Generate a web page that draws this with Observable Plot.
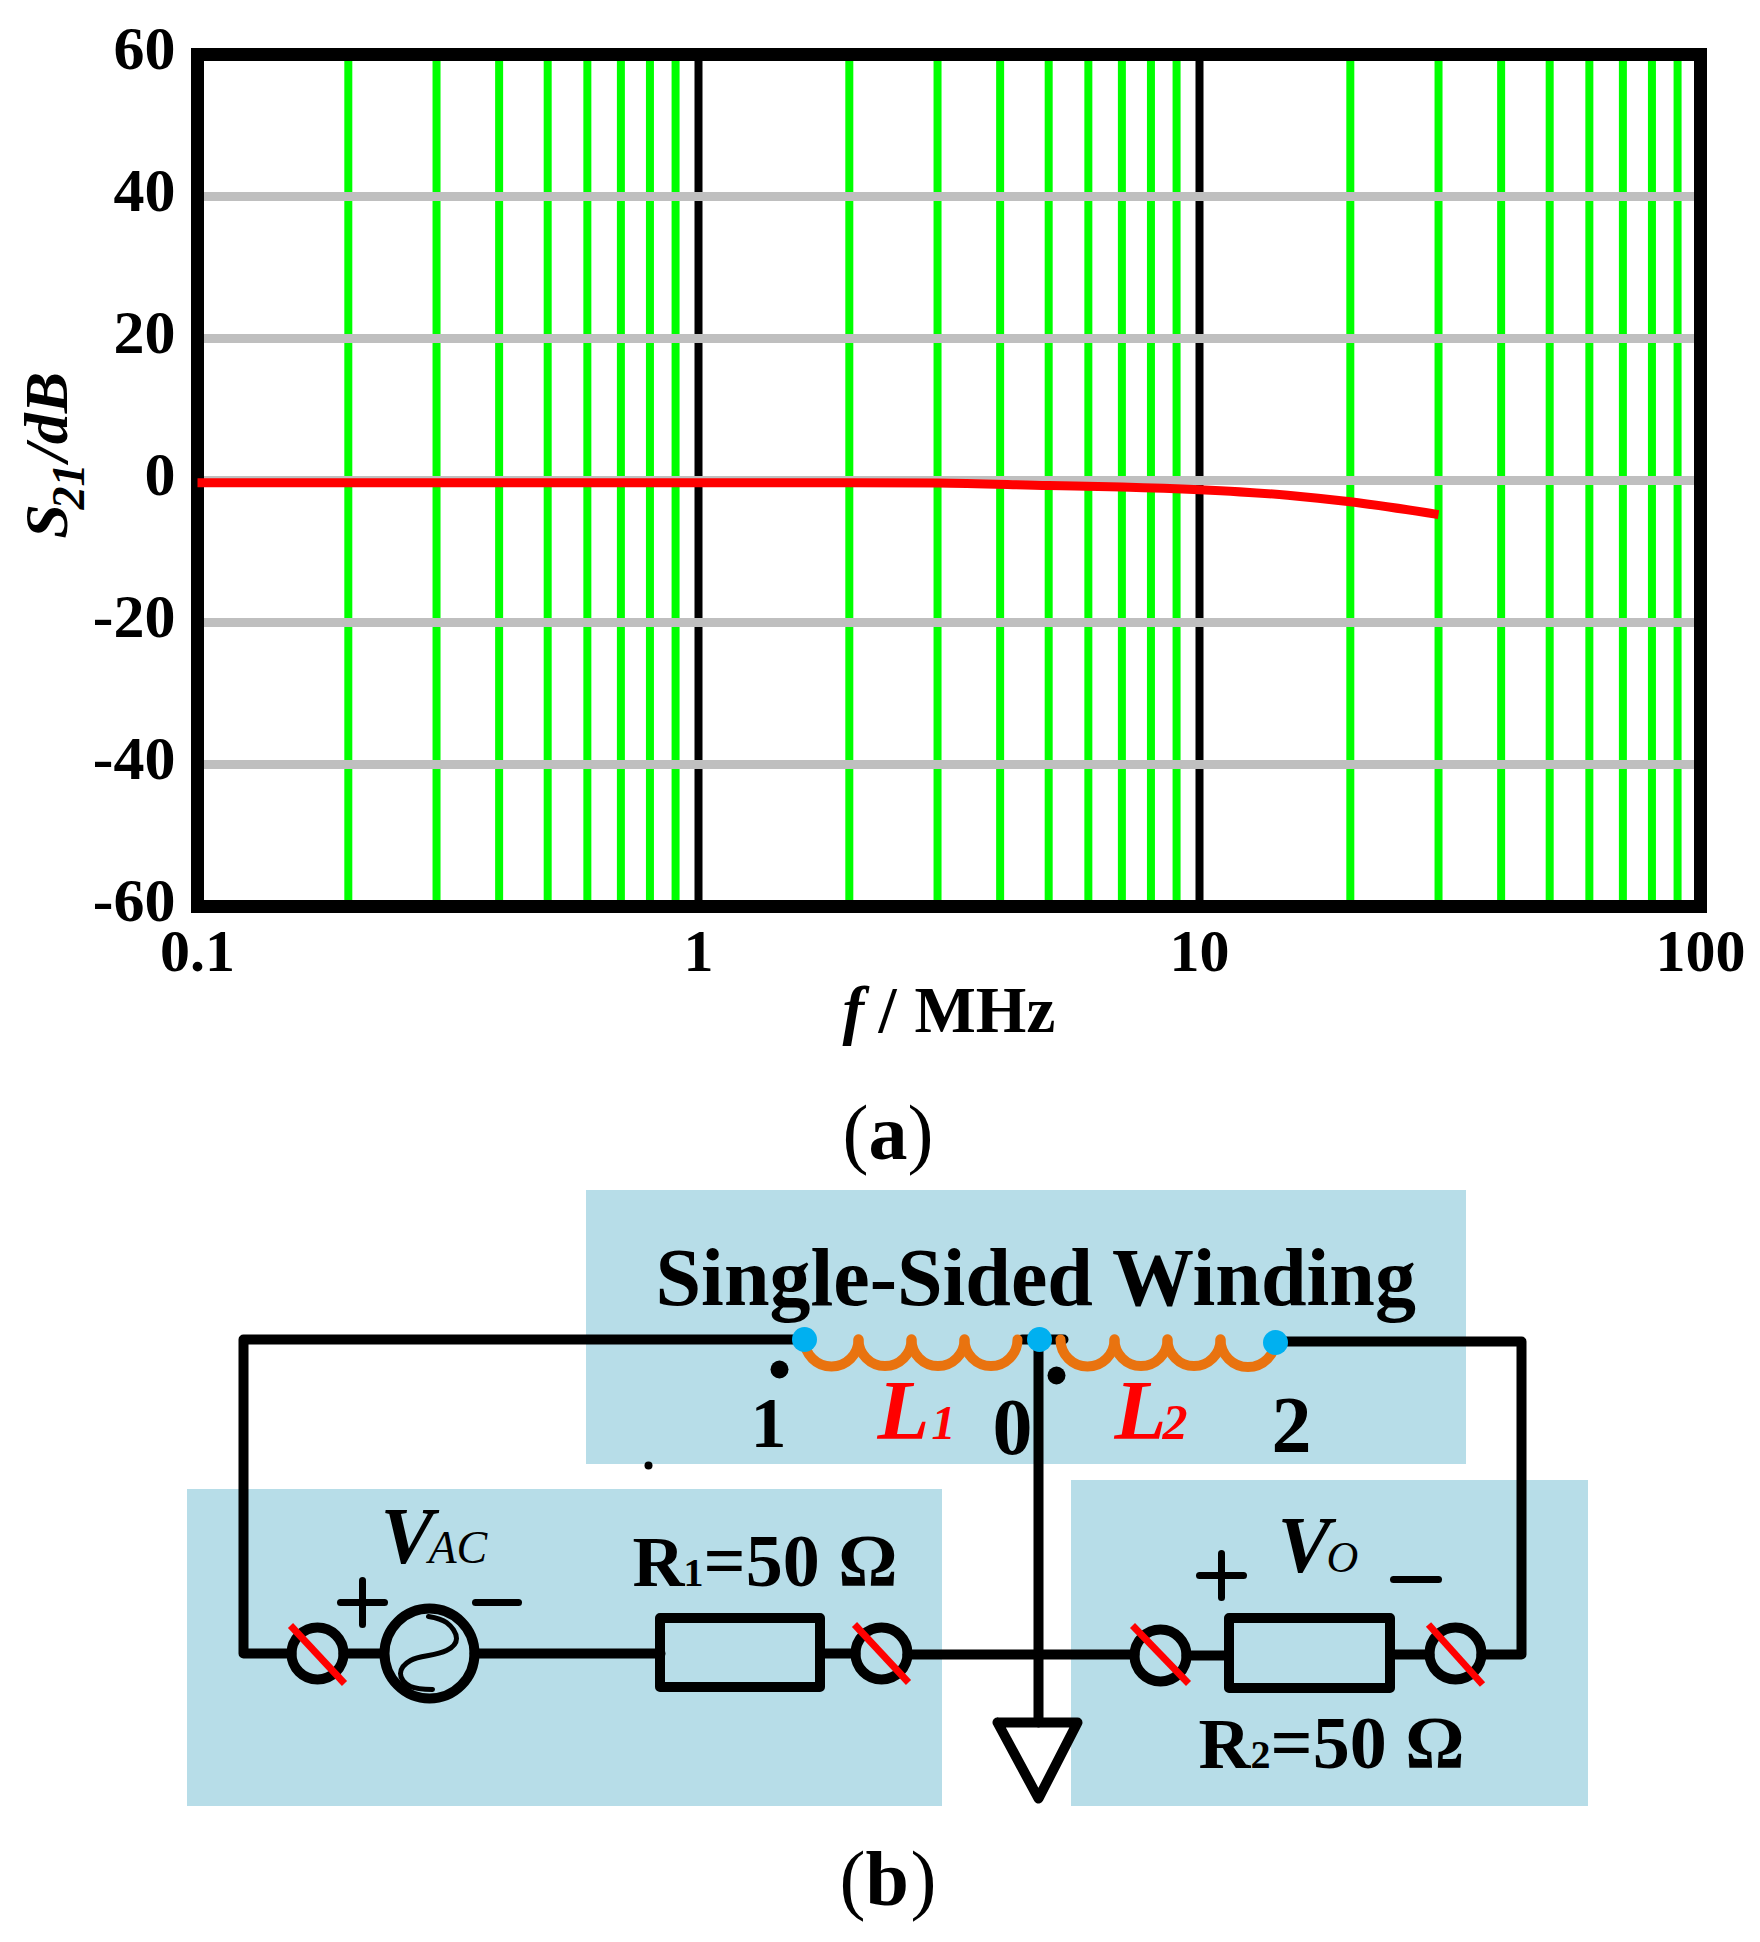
<!DOCTYPE html>
<html>
<head>
<meta charset="utf-8">
<script src="https://cdn.jsdelivr.net/npm/d3@7"></script>
<script src="https://cdn.jsdelivr.net/npm/@observablehq/plot@0.6"></script>
<style>
  html, body { margin: 0; padding: 0; background: #fff; overflow: hidden; }
  svg { display: block; }
</style>
</head>
<body>
<div id="chart"></div>
<script>
// (a) values
const freq = [0.1, 0.2, 0.5, 1, 2, 3, 5, 7, 10, 15, 20, 30];
const s21 = [-0.3, -0.3, -0.3, -0.3, -0.3, -0.35, -0.7, -0.9, -1.3, -2.07, -3.0, -4.8];
const xMajor = [1, 10];
const xMinor = [0.2, 0.3, 0.4, 0.5, 0.6, 0.7, 0.8, 0.9, 2, 3, 4, 5, 6, 7, 8, 9, 20, 30, 40, 50, 60, 70, 80, 90];
const xTicks = [0.1, 1, 10, 100];
const yTicks = [-60, -40, -20, 0, 20, 40, 60];
const yGrid = [-40, -20, 0, 20, 40];

// (b) circuit, in page pixels
const boxes = [[586, 1190, 1466, 1464], [187, 1489, 942, 1806], [1071, 1480, 1588, 1806]];
const wires = [
  [[804, 1339], [243, 1339], [243, 1653], [291, 1653]],
  [[343, 1653], [383, 1653]],
  [[474, 1653], [660, 1653]],
  [[820, 1653], [855, 1653]],
  [[907, 1654], [1134, 1654]],
  [[1186, 1655], [1228, 1655]],
  [[1390, 1654], [1429, 1654]],
  [[1481, 1654], [1521, 1654], [1521, 1341], [1275, 1341]],
  [[1038, 1339], [1038, 1722]],
  [[1022, 1339], [1063, 1339]],
  [[997, 1722], [1077, 1722], [1038, 1798], [997, 1722]]
];
const signs = [
  [[340, 1602], [384, 1602]], [[362, 1580], [362, 1624]], [[475, 1602], [518, 1602]],
  [[1199, 1575], [1243, 1575]], [[1221, 1553], [1221, 1597]], [[1393, 1579], [1438, 1579]]
];
const resistors = [[660, 1618, 820, 1687], [1229, 1618, 1390, 1688]];
const terminals = [[317, 1653], [881, 1653], [1160, 1655], [1455, 1653]];
const slashes = [[290, 1625, 344, 1683], [854, 1624, 908, 1682], [1132, 1625, 1188, 1683], [1428, 1624, 1482, 1684]];
const coil = [[804, 858], [858, 911], [911, 964], [964, 1017], [1060, 1114], [1114, 1167], [1167, 1220], [1220, 1275]];
const nodes = [[804, 1339], [1039, 1339], [1275, 1342]];
const bigDots = [[779, 1369], [1056, 1375]];
const sine = [[428, 1616], [446, 1622], [456, 1638], [446, 1650], [428, 1655], [410, 1660], [400, 1673], [410, 1686], [432, 1689]];

const serif = "Liberation Serif";

// text whose baseline sits on y
function label(str, x, y, size, o = {}) {
  return Plot.text([str], {
    x: [x], y: [y], text: d => d, fontSize: size, fontFamily: serif, fontWeight: "bold",
    textAnchor: "start", lineAnchor: "bottom", fill: "black", ...o
  });
}

// same, but placed by page pixels on the chart frame
const chartTop = 54, chartLeft = 197;
function frameLabel(str, x, y, size, o = {}) {
  return Plot.text([str], {
    frameAnchor: "top-left", text: d => d, fontSize: size, fontFamily: serif, fontWeight: "bold",
    textAnchor: "start", lineAnchor: "bottom", fill: "black",
    dx: x - chartLeft, dy: y - chartTop, ...o
  });
}

const curve = freq.map((f, i) => ({f, v: s21[i]}));

let chart = Plot.plot({
  width: 1760,
  height: 1180,
  marginLeft: chartLeft,
  marginRight: 60,
  marginTop: chartTop,
  marginBottom: 274,
  x: {type: "log", domain: [0.1, 100], axis: null},
  y: {domain: [-60, 60], axis: null},
  marks: [
    Plot.ruleX(xMinor, {stroke: "#00ff00", strokeWidth: 8}),
    Plot.ruleX(xMajor, {stroke: "black", strokeWidth: 8}),
    Plot.ruleY(yGrid, {stroke: "#bfbfbf", strokeWidth: 9}),
    Plot.frame({stroke: "black", strokeWidth: 13}),
    Plot.line(curve, {x: "f", y: "v", stroke: "#ff0000", strokeWidth: 9, curve: "monotone-x", strokeLinecap: "butt"}),
    Plot.axisY({ticks: yTicks, tickFormat: d => String(d), tickSize: 0, tickPadding: 22, label: null, dy: -5,
      fontSize: 62, fontFamily: serif, fontWeight: "bold", fill: "black"}),
    Plot.axisX({ticks: xTicks, tickFormat: d => String(d), tickSize: 0, tickPadding: 22, label: null,
      fontSize: 60, fontFamily: serif, fontWeight: "bold", fill: "black"}),
    frameLabel("f", 842, 1031, 65, {fontStyle: "italic"}),
    frameLabel("/", 878, 1031, 65),
    frameLabel("MHz", 914, 1031, 65),
    frameLabel("S", 66, 538, 62, {rotate: -90, fontStyle: "italic"}),
    frameLabel("21", 83, 509, 46, {rotate: -90, fontStyle: "italic"}),
    frameLabel("/dB", 66, 461, 62, {rotate: -90, fontStyle: "italic"}),
    frameLabel("(", 842, 1158, 78, {fontWeight: "normal"}),
    frameLabel("a", 868, 1158, 78),
    frameLabel(")", 907, 1158, 78, {fontWeight: "normal"})
  ]
});

const toRows = list => list.flatMap((pts, id) => pts.map(p => ({id, x: p[0], y: p[1]})));

let circuit = Plot.plot({
  width: 1760,
  height: 762,
  margin: 0,
  x: {domain: [0, 1760], axis: null},
  y: {domain: [1942, 1180], axis: null},
  marks: [
    Plot.rect(boxes, {x1: "0", y1: "1", x2: "2", y2: "3", fill: "#b7dde8"}),
    Plot.line(toRows(wires), {x: "x", y: "y", z: "id", stroke: "black", strokeWidth: 10}),
    Plot.line(toRows(signs), {x: "x", y: "y", z: "id", stroke: "black", strokeWidth: 7}),
    Plot.rect(resistors, {x1: "0", y1: "1", x2: "2", y2: "3", fill: "none", stroke: "black", strokeWidth: 10, strokeLinejoin: "round"}),
    Plot.dot(terminals, {x: "0", y: "1", r: 26, stroke: "black", strokeWidth: 10}),
    Plot.dot([[429, 1653]], {x: "0", y: "1", r: 45, stroke: "black", strokeWidth: 10}),
    Plot.line(sine, {x: "0", y: "1", stroke: "black", strokeWidth: 5, curve: "natural"}),
    Plot.link(slashes, {x1: "0", y1: "1", x2: "2", y2: "3", stroke: "#ff0000", strokeWidth: 7}),
    Plot.arrow(coil, {x1: "0", x2: "1", y1: () => 1339, y2: () => 1339, bend: -90, headLength: 0, stroke: "#e9730f", strokeWidth: 10, strokeLinecap: "round"}),
    Plot.dot(nodes, {x: "0", y: "1", r: 12.5, fill: "#00b0f0"}),
    Plot.dot(bigDots, {x: "0", y: "1", r: 9, fill: "black"}),
    Plot.dot([[648, 1465]], {x: "0", y: "1", r: 4, fill: "black"}),
    label("Single-Sided Winding", 655, 1304, 82),
    label("1", 750, 1446, 72),
    label("0", 992, 1453, 80),
    label("2", 1271, 1451, 80),
    label("L", 877, 1438, 85, {fontStyle: "italic", fill: "#ff0000"}),
    label("1", 931, 1438, 48, {fontStyle: "italic", fill: "#ff0000"}),
    label("L", 1114, 1438, 85, {fontStyle: "italic", fill: "#ff0000"}),
    label("2", 1162, 1438, 50, {fontStyle: "italic", fill: "#ff0000"}),
    label("V", 380, 1562, 80, {fontStyle: "italic"}),
    label("AC", 428, 1562, 46, {fontStyle: "italic", fontWeight: "normal"}),
    label("V", 1277, 1571, 80, {fontStyle: "italic"}),
    label("O", 1326, 1571, 44, {fontStyle: "italic", fontWeight: "normal"}),
    label("R", 632, 1585, 72),
    label("1", 683, 1585, 40),
    label("=50 Ω", 703, 1585, 74),
    label("R", 1198, 1767, 72),
    label("2", 1250, 1767, 40),
    label("=50 Ω", 1270, 1767, 74),
    label("(", 839, 1904, 78, {fontWeight: "normal"}),
    label("b", 865, 1904, 78),
    label(")", 910, 1904, 78, {fontWeight: "normal"})
  ]
});

d3.select('#chart').append(() => chart);
d3.select('#chart').append(() => circuit);
</script>
</body>
</html>
